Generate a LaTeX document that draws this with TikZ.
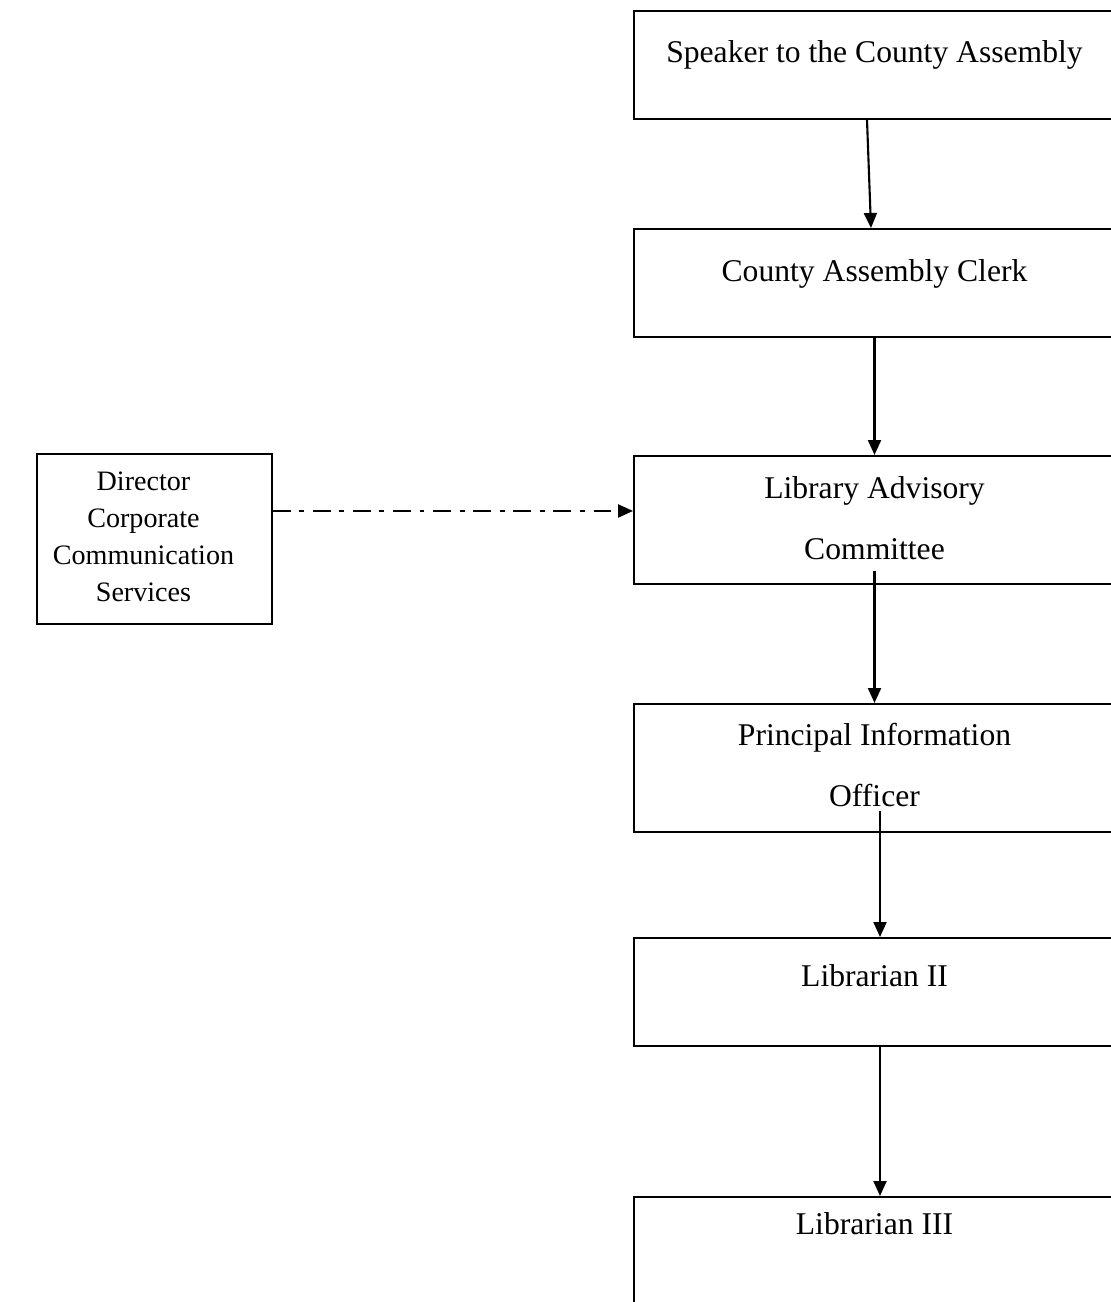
\documentclass[tikz,border=0pt]{standalone}
\usepackage{fontspec}
\setmainfont{Liberation Serif}
\usetikzlibrary{calc,arrows.meta,positioning}

\begin{document}
\begin{tikzpicture}
		\tikzstyle{bx}=[draw, line width=1.1pt, rectangle, minimum width=9.62cm, anchor=north]
		\tikzstyle{tx}=[font=\fontsize{18}{34.7}\selectfont, align=center, inner sep=0pt, anchor=base]
		\tikzstyle{ts}=[font=\fontsize{16}{21}\selectfont, align=center, inner sep=0pt, anchor=base]
		\tikzstyle{ar}=[line width=1.2pt, -{Triangle[length=0.3cm,width=0.26cm]}]

		\useasboundingbox (0,0) rectangle (22.2,-26.04);

		% boxes
		\node[bx, minimum height=2.16cm] (N1) at (17.49,-0.2) {};
		\node[bx, minimum height=2.16cm] (N2) at (17.49,-4.56) {};
		\node[bx, minimum height=2.56cm] (N3) at (17.49,-9.10) {};
		\node[bx, minimum height=2.56cm] (N4) at (17.49,-14.06) {};
		\node[bx, minimum height=2.16cm] (N5) at (17.49,-18.74) {};
		\node[bx, minimum height=2.4cm] (N6) at (17.49,-23.92) {};
		\node[bx, minimum width=4.7cm, minimum height=3.4cm] (N7) at (3.09,-9.06) {};

		% texts (base = last line)
		\node[tx] (T1) at ([yshift=-1.06cm]N1.north) {Speaker to the County Assembly};
		\node[tx] (T2) at ([yshift=-1.06cm]N2.north) {County Assembly Clerk};
		\node[tx] (T3) at ([yshift=-2.08cm]N3.north) {Library Advisory\\Committee};
		\node[tx] (T4) at ([yshift=-2.06cm]N4.north) {Principal Information\\Officer};
		\node[tx] (T5) at ([yshift=-0.98cm]N5.north) {Librarian II};
		\node[tx] (T6) at ([yshift=-0.76cm]N6.north) {Librarian III};
		\node[ts] (T7) at ([xshift=-0.22cm,yshift=-2.96cm]N7.north) {Director\\Corporate\\Communication\\Services};

		\coordinate (C3) at (N3.center |- T3.south);
		\coordinate (C4) at ([xshift=0.11cm]N4.center |- T4.south);
		\coordinate (D1) at ($(N7.east)+(0,0.56)$);

		\draw [ar] ([xshift=-0.15cm]N1.south) to ([xshift=-0.07cm]N2.north);
		\draw [ar] (N2.south) to (N3.north);
		\draw [ar] ([yshift=-0.22cm]C3) to (N4.north);
		\draw [ar] ([yshift=-0.08cm]C4) to ([xshift=0.11cm]N5.north);
		\draw [ar] ([xshift=0.11cm]N5.south) to ([xshift=0.11cm]N6.north);
		\draw [ar, dash pattern=on 10pt off 5pt on 2.8pt off 5pt] (D1) to (D1 -| N3.west);
\end{tikzpicture}
\end{document}
